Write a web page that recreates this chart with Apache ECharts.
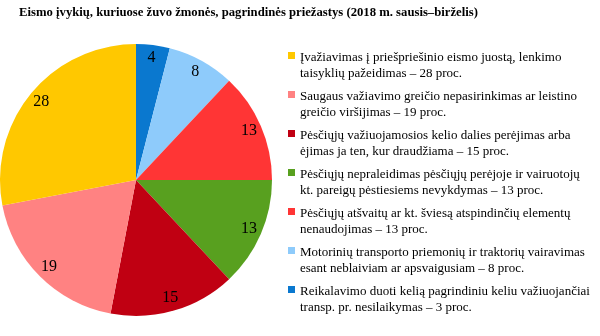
<!DOCTYPE html>
<html><head><meta charset="utf-8">
<script src="https://cdn.jsdelivr.net/npm/echarts@6/dist/echarts.min.js"></script>
<style>html,body{margin:0;padding:0;background:#fff}#c{width:600px;height:336px}</style>
</head><body><div id="c"></div>
<script>
const titleText = 'Eismo įvykių, kuriuose žuvo žmonės, pagrindinės priežastys (2018 m. sausis–birželis)';
// clockwise from 12 o'clock
const categories = [
  'Reikalavimo duoti kelią pagrindiniu keliu važiuojančiai\ntransp. pr. nesilaikymas – 3 proc.',
  'Motorinių transporto priemonių ir traktorių vairavimas\nesant neblaiviam ar apsvaigusiam – 8 proc.',
  'Pėsčiųjų atšvaitų ar kt. šviesą atspindinčių elementų\nnenaudojimas – 13 proc.',
  'Pėsčiųjų nepraleidimas pėsčiųjų perėjoje ir vairuotojų\nkt. pareigų pėstiesiems nevykdymas – 13 proc.',
  'Pėsčiųjų važiuojamosios kelio dalies perėjimas arba\nėjimas ja ten, kur draudžiama – 15 proc.',
  'Saugaus važiavimo greičio nepasirinkimas ar leistino\ngreičio viršijimas – 19 proc.',
  'Įvažiavimas į priešpriešinio eismo juostą, lenkimo\ntaisyklių pažeidimas – 28 proc.'
];
const values = [4, 8, 13, 13, 15, 19, 28];
const colors = ['#0A78CF', '#8ECBFB', '#FF3535', '#58A01F', '#C00012', '#FF8282', '#FFC800'];
const legendOrder = categories.slice().reverse();

const data = categories.map((n, i) => ({ name: n, value: values[i], itemStyle: { color: colors[i] } }));
const chart = echarts.init(document.getElementById('c'), null, { renderer: 'canvas' });
chart.setOption({
  animation: false,
  backgroundColor: '#fff',
  title: {
    text: titleText, left: 19, top: 6, padding: 0,
    textStyle: { fontFamily: 'Liberation Serif', fontWeight: 'bold', fontSize: 12.7, color: '#000' }
  },
  legend: {
    orient: 'vertical', left: 288, top: 50, padding: 0,
    itemWidth: 7, itemHeight: 32, itemGap: 7,
    icon: 'path://M0,0L0,0M0,2L7,2L7,9L0,9ZM0,32L0,32',
    itemStyle: { borderWidth: 0 },
    data: legendOrder,
    textStyle: { fontFamily: 'Liberation Serif', fontSize: 13, color: '#000', lineHeight: 16 }
  },
  series: [{
    type: 'pie', center: [136, 180], radius: [0, 136], startAngle: 90, clockwise: true,
    silent: true, label: { show: false }, labelLine: { show: false },
    itemStyle: { borderWidth: 0 }, data: data
  }, {
    type: 'pie', center: [136, 180], radius: [104, 136], startAngle: 90, clockwise: true,
    silent: true, labelLine: { show: false },
    itemStyle: { color: 'rgba(0,0,0,0)', borderWidth: 0 },
    label: { show: true, position: 'inside', formatter: '{c}', fontFamily: 'Liberation Serif', fontSize: 16, color: '#000' },
    data: categories.map((n, i) => ({ name: n, value: values[i] }))
  }]
});
</script></body></html>
